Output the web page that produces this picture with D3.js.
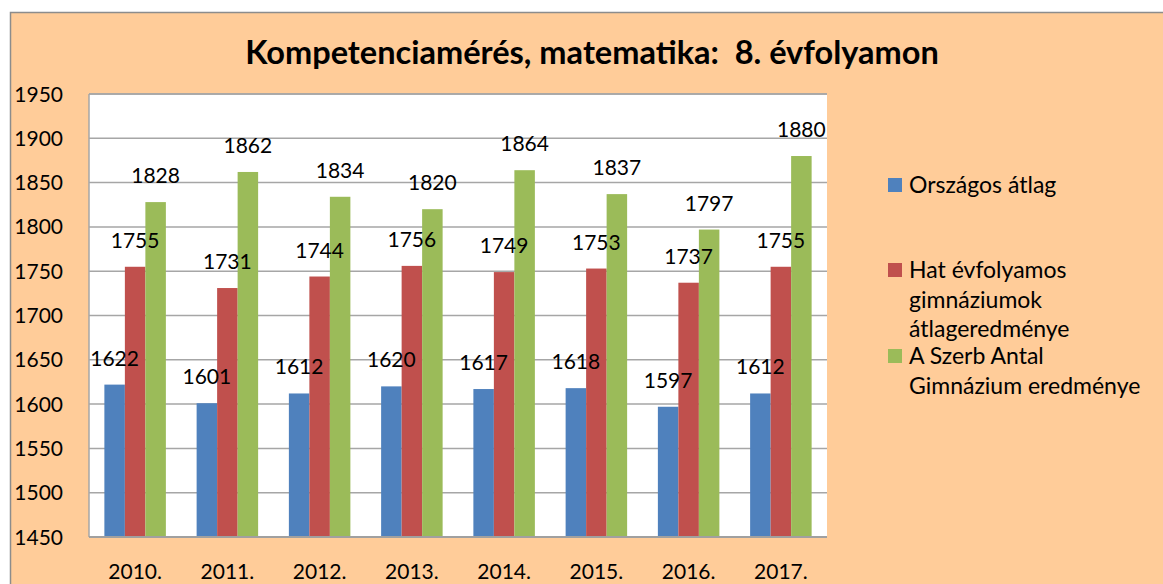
<!DOCTYPE html>
<html>
<head>
    <meta charset="utf-8">
    <title>Kompetenciamérés</title>
    <script src="https://d3js.org/d3.v7.min.js"></script>
    <style>
        body { margin: 0; background: #fff; }
        svg { display: block; font-family: Lato, "Open Sans", sans-serif; }
        .grid line { stroke: #a6a6a6; stroke-width: 1.5px; }
        .lbl { font-size: 21px; fill: #000; }
        .leg { font-size: 23px; fill: #000; }
    </style>
</head>
<body>
    <svg width="1163" height="584"></svg>

    <script>
        // chart data
        const years = ["2010.", "2011.", "2012.", "2013.", "2014.", "2015.", "2016.", "2017."];
        const orszagos = [1622, 1601, 1612, 1620, 1617, 1618, 1597, 1612];
        const hatEvfolyamos = [1755, 1731, 1744, 1756, 1749, 1753, 1737, 1755];
        const szerbAntal = [1828, 1862, 1834, 1820, 1864, 1837, 1797, 1880];
        const yTicks = [1450, 1500, 1550, 1600, 1650, 1700, 1750, 1800, 1850, 1900, 1950];
        const legendLines = [["Országos átlag"], ["Hat évfolyamos", "gimnáziumok", "átlageredménye"], ["A Szerb Antal", "Gimnázium eredménye"]];
        const colors = ["#4f81bd", "#c0504d", "#9bbb59"];
        const title = "Kompetenciamérés, matematika:  8. évfolyamon";

        const svg = d3.select("svg");
        const plot = { left: 89, right: 827, top: 94, bottom: 537 };

        // background + outer border
        svg.append("rect")
            .attr("x", 10.5).attr("y", 12.5)
            .attr("width", 1200).attr("height", 600)
            .attr("fill", "#ffcc99")
            .attr("stroke", "#8c8c8c").attr("stroke-width", 1.5);

        svg.append("rect")
            .attr("x", plot.left).attr("y", plot.top)
            .attr("width", plot.right - plot.left).attr("height", plot.bottom - plot.top)
            .attr("fill", "#fff");

        const y = d3.scaleLinear().domain([1450, 1950]).range([plot.bottom, plot.top]);
        const x0 = d3.scaleBand().domain(years).range([plot.left, plot.right]);
        const groupW = x0.bandwidth() * 3 / 4.5;
        const off = (x0.bandwidth() - groupW) / 2;
        const x1 = d3.scaleBand().domain(d3.range(3)).range([off, off + groupW]);

        // gridlines
        svg.append("g").attr("class", "grid")
            .selectAll("line").data(yTicks.slice(1)).enter().append("line")
            .attr("x1", plot.left).attr("x2", plot.right)
            .attr("y1", d => y(d)).attr("y2", d => y(d));

        // y tick labels
        svg.append("g").selectAll("text").data(yTicks).enter().append("text")
            .attr("class", "lbl")
            .attr("x", 63).attr("y", d => y(d))
            .attr("dy", "0.36em")
            .attr("text-anchor", "end")
            .text(d => d);

        const data = [orszagos, hatEvfolyamos, szerbAntal];
        const rows = years.map((yr, i) => ({ yr, vals: data.map(s => s[i]) }));

        const groups = svg.append("g").selectAll("g").data(rows).enter().append("g")
            .attr("transform", d => `translate(${x0(d.yr)},0)`);

        groups.selectAll("rect").data(d => d.vals).enter().append("rect")
            .attr("x", (d, i) => x1(i))
            .attr("width", x1.bandwidth())
            .attr("y", d => y(d))
            .attr("height", d => plot.bottom - y(d))
            .attr("fill", (d, i) => colors[i]);

        // data labels drawn on top of all bars
        const labels = svg.append("g").selectAll("g").data(rows).enter().append("g")
            .attr("transform", d => `translate(${x0(d.yr)},0)`);
        labels.selectAll("text").data(d => d.vals).enter().append("text")
            .attr("class", "lbl")
            .attr("x", (d, i) => x1(i) + x1.bandwidth() / 2)
            .attr("y", d => y(d) - 19)
            .attr("text-anchor", "middle")
            .text(d => d);

        // axes lines
        svg.append("line")
            .attr("x1", plot.left).attr("x2", plot.left)
            .attr("y1", plot.top).attr("y2", plot.bottom)
            .attr("stroke", "#a6a6a6").attr("stroke-width", 1.5);
        svg.append("line")
            .attr("x1", plot.left).attr("x2", plot.right)
            .attr("y1", plot.bottom).attr("y2", plot.bottom)
            .attr("stroke", "#a0a0a0").attr("stroke-width", 2);
        svg.append("line")
            .attr("x1", plot.left).attr("x2", plot.right)
            .attr("y1", plot.top).attr("y2", plot.top)
            .attr("stroke", "#a6a6a6").attr("stroke-width", 1.5);

        // x labels
        svg.append("g").selectAll("text").data(years).enter().append("text")
            .attr("class", "lbl")
            .attr("x", d => x0(d) + x0.bandwidth() / 2)
            .attr("y", 579)
            .attr("text-anchor", "middle")
            .text(d => d);

        // title
        const t = svg.append("text")
            .attr("x", 592).attr("y", 64)
            .attr("text-anchor", "middle")
            .attr("font-weight", "bold")
            .attr("font-size", 28)
            .style("white-space", "pre")
            .attr("xml:space", "preserve")
            .text(title);
        const tw = t.node().getComputedTextLength();
        t.attr("font-size", 28 * 694 / tw);

        // legend
        const legendBase = [193, 278, 364];
        const leg = svg.append("g").selectAll("g").data(legendLines).enter().append("g")
            .attr("transform", (d, i) => `translate(888,${legendBase[i]})`);
        leg.append("rect")
            .attr("x", 0).attr("y", -15)
            .attr("width", 14).attr("height", 14)
            .attr("fill", (d, i) => colors[i]);
        leg.selectAll("text").data(d => d).enter().append("text")
            .attr("class", "leg")
            .attr("x", 21)
            .attr("y", (d, j) => j * 29.5)
            .text(d => d);
    </script>
</body>
</html>
